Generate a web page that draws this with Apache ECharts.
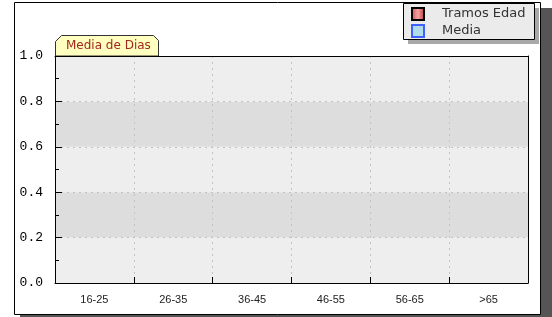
<!DOCTYPE html>
<html>
<head>
<meta charset="utf-8">
<script src="https://cdn.jsdelivr.net/npm/echarts@6/dist/echarts.min.js"></script>
<style>
  html, body { margin: 0; padding: 0; background: #fff; }
  #chart { width: 552px; height: 317px; }
</style>
</head>
<body>
<div id="chart"></div>
<script>
// age brackets shown on the x axis
const categories = ["16-25", "26-35", "36-45", "46-55", "56-65", ">65"];
// both series are empty in the reference (nothing is plotted)
const tramosEdad = [null, null, null, null, null, null];
const media = [null, null, null, null, null, null];
const yMin = 0;
const yMax = 1;
const yStep = 0.2;

const chart = echarts.init(document.getElementById("chart"), null, { renderer: "canvas" });

const dashed = { color: "#c2c2c2", width: 1, type: [2, 4] };
const border = { show: true, onZero: false, lineStyle: { color: "#000", width: 1 } };

chart.setOption({
  animation: false,
  backgroundColor: "#fff",
  grid: { left: 55, top: 56, right: 24, bottom: 34 },
  legend: {
    orient: "vertical",
    left: 411,
    top: 7,
    padding: 0,
    itemGap: 3,
    itemWidth: 12,
    itemHeight: 12,
    textStyle: { fontFamily: "DejaVu Sans", fontSize: 13, color: "#333", padding: [0, 0, 0, 13] },
    data: [
      { name: "Tramos Edad", icon: "rect" },
      { name: "Media", icon: "rect" }
    ]
  },
  graphic: [
    // outer frame with its drop shadow
    { type: "rect", z: -20, shape: { x: 20, y: 8, width: 532, height: 309 }, style: { fill: "#555" } },
    { type: "rect", z: -19, shape: { x: 14.5, y: 2.5, width: 526, height: 312 }, style: { fill: "#fff", stroke: "#000", lineWidth: 1 } },
    // legend box
    { type: "rect", z: -5, shape: { x: 408, y: 8, width: 131, height: 36 }, style: { fill: "#a8a8a8" } },
    { type: "rect", z: -4, shape: { x: 403.5, y: 3.5, width: 131, height: 36 }, style: { fill: "#ebebeb", stroke: "#000", lineWidth: 1 } },
    // title tab
    {
      type: "polygon", z: 5,
      shape: { points: [[55.5, 56], [55.5, 41.5], [61.5, 35.5], [153.5, 35.5], [158.5, 40.5], [158.5, 56]] },
      style: { fill: "#ffffc0", stroke: "#333", lineWidth: 1 }
    },
    {
      type: "text", z: 6, left: 66, top: 40,
      style: { text: "Media de Dias", fill: "#a0281e", font: "12px 'DejaVu Sans'" }
    }
  ],
  xAxis: [
    {
      type: "category",
      data: categories,
      boundaryGap: true,
      axisLine: border,
      axisTick: { show: true, inside: true, length: 6, interval: 0, lineStyle: { color: "#000" } },
      axisLabel: { margin: 11, color: "#222", fontSize: 11, fontFamily: "'Liberation Sans', Arial, sans-serif" },
      splitLine: { show: true, interval: 0, lineStyle: dashed }
    },
    {
      type: "category", position: "top", data: categories, z: 10,
      axisLine: border, axisTick: { show: false }, axisLabel: { show: false }, splitLine: { show: false }
    }
  ],
  yAxis: [
    {
      type: "value",
      min: yMin,
      max: yMax,
      interval: yStep,
      axisLine: border,
      axisTick: { show: true, inside: true, length: 7, lineStyle: { color: "#000" } },
      minorTick: { show: true, splitNumber: 2, length: 4, lineStyle: { color: "#000" } },
      axisLabel: {
        margin: 12, color: "#000", fontSize: 13, fontFamily: "'Liberation Mono', monospace",
        formatter: (v) => v.toFixed(1)
      },
      splitLine: { show: true, lineStyle: dashed },
      splitArea: { show: true, areaStyle: { color: ["#eeeeee", "#dddddd"] } }
    },
    {
      type: "value", position: "right", min: yMin, max: yMax, interval: yStep, z: 10,
      axisLine: border, axisTick: { show: false }, axisLabel: { show: false }, splitLine: { show: false }
    }
  ],
  series: [
    {
      name: "Tramos Edad",
      type: "bar",
      data: tramosEdad,
      itemStyle: {
        borderColor: "#000",
        borderWidth: 1,
        color: new echarts.graphic.LinearGradient(0, 0, 1, 0, [
          { offset: 0, color: "#d04848" },
          { offset: 0.5, color: "#f2a4a4" },
          { offset: 1, color: "#b82c2c" }
        ])
      }
    },
    {
      name: "Media",
      type: "bar",
      data: media,
      itemStyle: { color: "#b0dcea", borderColor: "#4060ff", borderWidth: 1 }
    }
  ]
});
</script>
</body>
</html>
